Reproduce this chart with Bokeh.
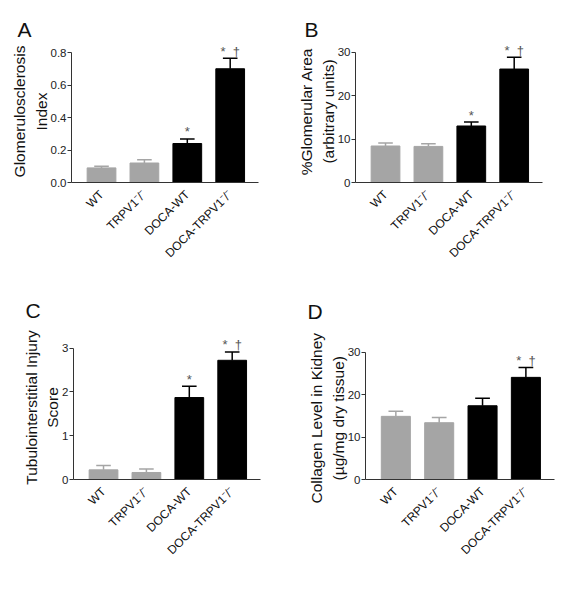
import math
from bokeh.plotting import figure
from bokeh.layouts import column, row
from bokeh.models import (Range1d, FixedTicker, ColumnDataSource, NumeralTickFormatter,
                          LinearAxis, Title)
from bokeh.core.properties import value
from bokeh.embed import file_html
from bokeh.resources import INLINE

FONT = "Liberation Sans"
NB = "\u00a0"

groups = ["WT", "TRPV1\u207b/\u207b", "DOCA-WT", "DOCA-TRPV1\u207b/\u207b"]
bar_colors = ["#a5a5a5", "#a5a5a5", "#000000", "#000000"]

a_mean = [0.09, 0.12, 0.24, 0.70]
a_err = [0.01, 0.02, 0.028, 0.064]
a_ticks = [0, 0.2, 0.4, 0.6, 0.8]
a_marks = ["", "", "*", "*\u00a0\u00a0\u2020"]
a_label = ["Glomerulosclerosis", "Index"]

b_mean = [8.4, 8.3, 13.0, 26.1]
b_err = [0.7, 0.6, 0.9, 2.7]
b_ticks = [0, 10, 20, 30]
b_marks = ["", "", "*", "*\u00a0\u00a0\u2020"]
b_label = ["%Glomerular Area", "(arbitrary units)"]

c_mean = [0.22, 0.16, 1.87, 2.72]
c_err = [0.10, 0.08, 0.26, 0.19]
c_ticks = [0, 1, 2, 3]
c_marks = ["", "", "*", "*\u00a0\u00a0\u2020"]
c_label = ["Tubulointerstitial Injury", "Score"]

d_mean = [14.9, 13.4, 17.4, 24.1]
d_err = [1.2, 1.2, 1.8, 2.3]
d_ticks = [0, 10, 20, 30]
d_marks = ["", "", "", "*\u00a0\u00a0\u2020"]
d_label = ["Collagen Level in Kidney", "(\u00b5g/mg dry tissue)"]

X0, X1 = 0.3, 4.66
BAR_W = 0.67
CAP = 0.17


def panel(mean, err, ticks, fmt, marks, ylabel, letter, W, H, left, right,
          y0px, ymaxpx, toppx, letter_dx, letter_standoff, label_pad):
    ymax = ticks[-1]
    scale = (y0px - ymaxpx) / ymax
    y_end = (y0px - toppx) / scale
    p = figure(width=W, height=H, x_range=Range1d(X0, X1), y_range=Range1d(0, y_end),
               output_backend="svg", toolbar_location=None,
               min_border_left=left, min_border_right=right,
               min_border_top=toppx, min_border_bottom=H - y0px)
    p.title = Title(text=letter, align="left", offset=letter_dx, standoff=letter_standoff,
                    text_font=FONT, text_font_size="21px", text_font_style="normal",
                    text_color="#111111")
    p.outline_line_color = None
    p.grid.visible = False
    p.background_fill_color = "white"
    p.border_fill_color = "white"

    xs = [1, 2, 3, 4]
    src = ColumnDataSource(dict(
        x=xs, top=mean,
        err_top=[m + e for m, e in zip(mean, err)],
        cap0=[x - CAP for x in xs], cap1=[x + CAP for x in xs],
        color=bar_colors, mark=marks))
    p.vbar(x="x", top="top", width=BAR_W, fill_color="color", line_color="color", source=src)
    p.segment(x0="x", y0="top", x1="x", y1="err_top", line_color="color", line_width=1.5, source=src)
    p.segment(x0="cap0", y0="err_top", x1="cap1", y1="err_top", line_color="color", line_width=1.5, source=src)
    p.text(x="x", y="err_top", text="mark", text_align="center", text_baseline="alphabetic",
           y_offset=-7, text_font_size="13px", text_color="#555555",
           text_font=value(FONT), source=src)

    pad = NB * label_pad
    ya = p.yaxis[0]
    ya.ticker = FixedTicker(ticks=ticks)
    ya.formatter = NumeralTickFormatter(format=fmt)
    ya.bounds = (0, ymax)
    ya.minor_tick_line_color = None
    ya.major_tick_out = 4
    ya.major_tick_in = 0
    ya.major_label_standoff = 1
    ya.major_label_text_font = FONT
    ya.major_label_text_font_size = "11.5px"
    ya.major_label_text_color = "#222222"
    ya.axis_line_color = "#333333"
    ya.major_tick_line_color = "#333333"
    ya.axis_label = ylabel[1] + pad
    ya.axis_label_text_font = FONT
    ya.axis_label_text_font_size = "15.5px"
    ya.axis_label_text_font_style = "normal"
    ya.axis_label_text_color = "#111111"
    ya.axis_label_standoff = -2

    ya2 = LinearAxis(ticker=FixedTicker(ticks=[]), bounds=(0, ymax),
                     axis_line_color=None, major_tick_line_color=None,
                     minor_tick_line_color=None, major_label_standoff=0,
                     major_tick_out=0, major_tick_in=0,
                     axis_label=ylabel[0] + pad, axis_label_text_font=FONT,
                     axis_label_text_font_size="15.5px", axis_label_text_font_style="normal",
                     axis_label_text_color="#111111", axis_label_standoff=2)
    p.add_layout(ya2, "left")

    xa = p.xaxis[0]
    xa.ticker = FixedTicker(ticks=xs)
    xa.major_label_overrides = {x: g for x, g in zip(xs, groups)}
    xa.major_label_orientation = math.pi / 4
    xa.major_tick_line_color = None
    xa.minor_tick_line_color = None
    xa.major_label_standoff = 4
    xa.major_label_text_font = FONT
    xa.major_label_text_font_size = "12px"
    xa.major_label_text_color = "#111111"
    xa.axis_line_color = "#333333"
    return p


pa = panel(a_mean, a_err, a_ticks, "0.0", a_marks, a_label, "A",
           287, 284, 71, 29, 182, 52, 40, -54, 0, 0)
pb = panel(b_mean, b_err, b_ticks, "0", b_marks, b_label, "B",
           287, 284, 68, 32, 182, 47, 35, -51, 0, 0)
pc = panel(c_mean, c_err, c_ticks, "0", c_marks, c_label, "C",
           287, 310, 73, 27, 198, 64, 38, -48, 2, 3)
pd = panel(d_mean, d_err, d_ticks, "0", d_marks, d_label, "D",
           287, 310, 78, 20, 195, 63, 32, -58, 0, 8)

layout = column(row(pa, pb), row(pc, pd))
open("out.html", "w").write(file_html(layout, INLINE))
